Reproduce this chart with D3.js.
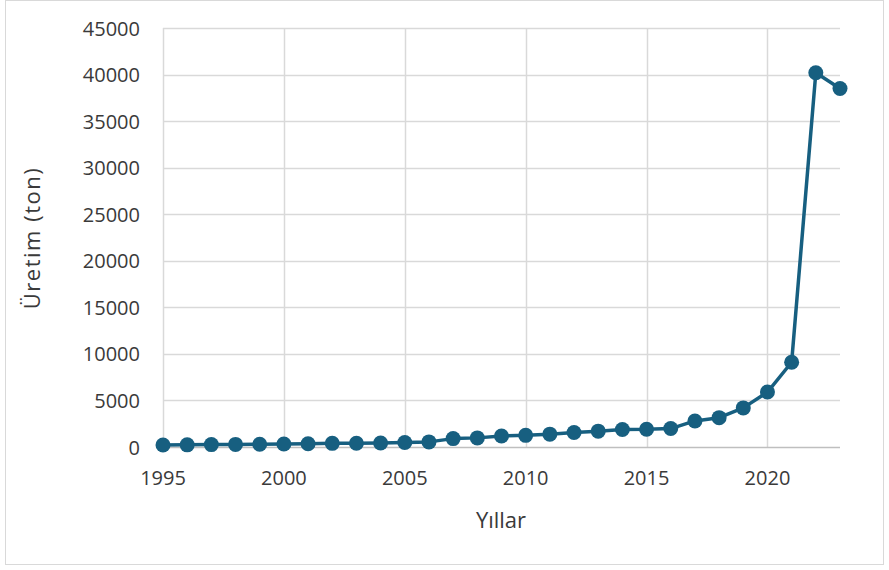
<!DOCTYPE html>
<html><head><meta charset="utf-8">
<script src="https://cdn.jsdelivr.net/npm/d3@7"></script>
<style>body{margin:0;background:#fff;} svg{display:block;}</style>
</head><body>
<script>
const years = [1995,1996,1997,1998,1999,2000,2001,2002,2003,2004,2005,2006,2007,2008,2009,2010,2011,2012,2013,2014,2015,2016,2017,2018,2019,2020,2021,2022,2023];
const production = [210,230,260,280,300,320,350,390,400,430,480,550,900,980,1180,1250,1380,1550,1700,1880,1900,1980,2800,3150,4200,5900,9100,40200,38500];
const xTicks = [1995,2000,2005,2010,2015,2020];
const yTicks = [0,5000,10000,15000,20000,25000,30000,35000,40000,45000];
const xTitle = "Yıllar";
const yTitle = "Üretim (ton)";

const W = 889, H = 570;
const svg = d3.select("body").append("svg").attr("width", W).attr("height", H);
svg.append("rect").attr("x",5.5).attr("y",0.5).attr("width",878).attr("height",564)
  .attr("fill","#fff").attr("stroke","#d9d9d9").attr("stroke-width",1);

const x = d3.scaleLinear().domain([1995,2023]).range([163,840]);
const y = d3.scaleLinear().domain([0,45000]).range([447,28]);
const font = "'Open Sans', 'Noto Sans', sans-serif";

// horizontal gridlines
svg.append("g").selectAll("line").data(yTicks.filter(d=>d>0)).join("line")
  .attr("x1",x(1995)).attr("x2",x(2023)).attr("y1",d=>Math.round(y(d))+0.5).attr("y2",d=>Math.round(y(d))+0.5)
  .attr("stroke","#d9d9d9").attr("stroke-width",1.5);
// vertical gridlines
svg.append("g").selectAll("line").data(xTicks).join("line")
  .attr("x1",d=>Math.round(x(d))+0.5).attr("x2",d=>Math.round(x(d))+0.5).attr("y1",y(45000)).attr("y2",y(0))
  .attr("stroke","#d9d9d9").attr("stroke-width",1.5);
// x axis baseline
svg.append("line").attr("x1",x(1995)).attr("x2",x(2023)).attr("y1",y(0)+0.5).attr("y2",y(0)+0.5)
  .attr("stroke","#bfbfbf").attr("stroke-width",1.5);

// y tick labels
svg.append("g").selectAll("text").data(yTicks).join("text")
  .attr("x",140).attr("y",d=>y(d)+7.5).attr("text-anchor","end")
  .attr("font-family",font).attr("font-size",20).attr("fill","#3a3a3a").text(d=>d);
// x tick labels
svg.append("g").selectAll("text").data(xTicks).join("text")
  .attr("x",d=>x(d)).attr("y",485).attr("text-anchor","middle")
  .attr("font-family",font).attr("font-size",20).attr("fill","#3a3a3a").text(d=>d);

// titles
svg.append("text").attr("x",501).attr("y",528).attr("text-anchor","middle")
  .attr("font-family",font).attr("font-size",22).attr("fill","#3a3a3a").text(xTitle);
svg.append("text").attr("transform","translate(40,238) rotate(-90)").attr("text-anchor","middle")
  .attr("font-family",font).attr("font-size",22).attr("letter-spacing",1.5).attr("fill","#3a3a3a").text(yTitle);

const data = years.map((yr,i)=>({yr, v: production[i]}));
const color = "#175f80";
svg.append("path").datum(data)
  .attr("d", d3.line().x(d=>x(d.yr)).y(d=>y(d.v)))
  .attr("fill","none").attr("stroke",color).attr("stroke-width",3.5).attr("stroke-linejoin","round");
svg.append("g").selectAll("circle").data(data).join("circle")
  .attr("cx",d=>x(d.yr)).attr("cy",d=>y(d.v)).attr("r",7.5).attr("fill",color);
</script>
</body></html>
